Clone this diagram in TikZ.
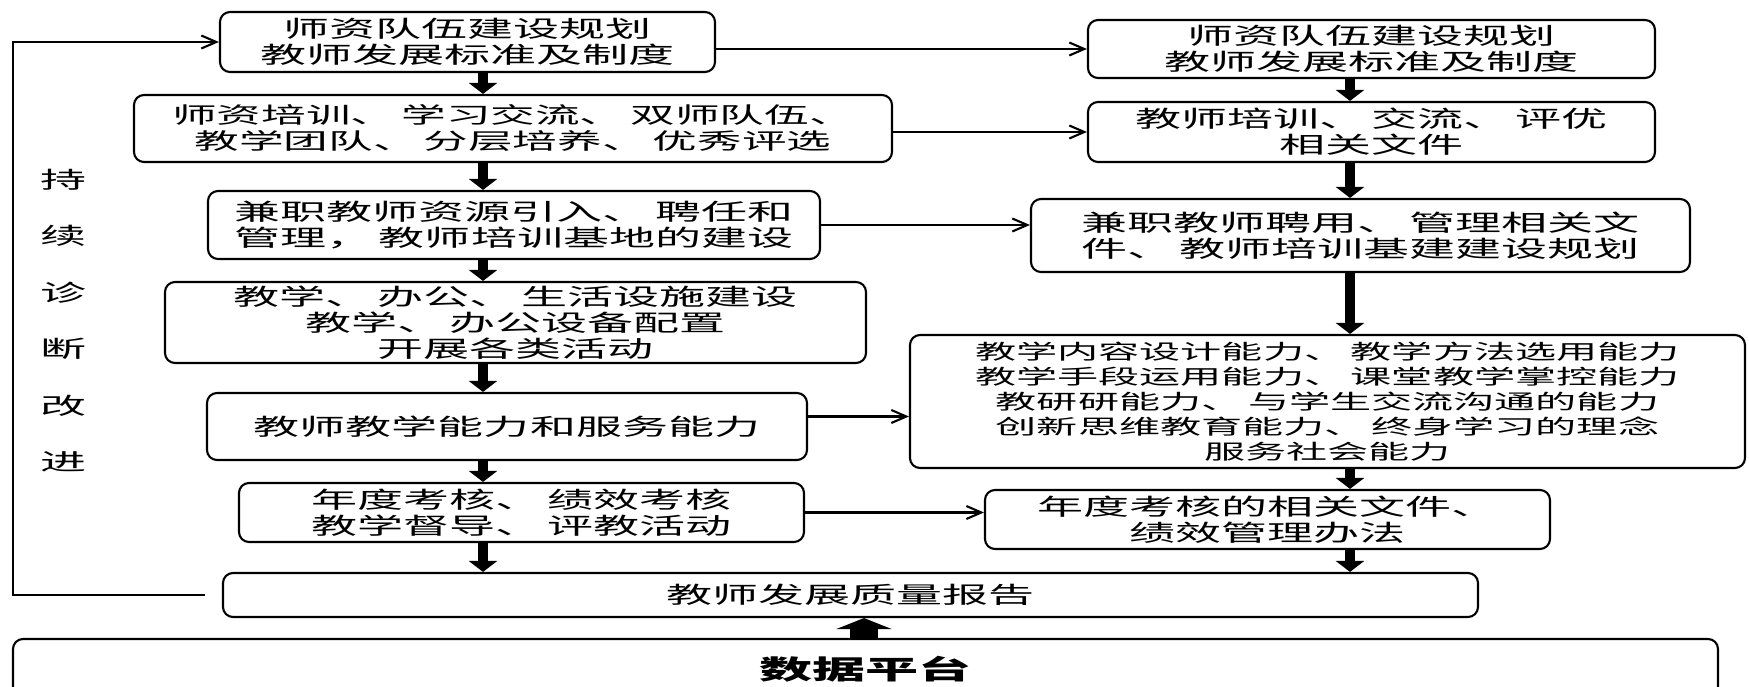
\documentclass[tikz,border=0pt]{standalone}
\usepackage{fontspec}
\setmainfont{Noto Sans CJK SC}[FakeStretch=2, WordSpace=0.6]
\usetikzlibrary{arrows.meta}

\tikzset{
  box/.style={draw, rounded corners=0.2cm, line width=1.2pt, align=center, inner sep=0pt,
    font=\fontsize{13.1pt}{14.8pt}\selectfont},
  flow/.style={-{Straight Barb[length=0.3cm,width=0.26cm]}, line width=1.2pt},
  fat/.style={-{Triangle[length=0.22cm,width=0.56cm]}, line width=0.2cm},
  fatter/.style={-{Triangle[length=0.22cm,width=1.1cm]}, line width=0.56cm},
}

\begin{document}
\begin{tikzpicture}

\useasboundingbox (0,0) rectangle (34.98,13.74);

% Left column
\node[box, minimum width=9.9cm, minimum height=1.2cm] (L1) at (9.35,12.9)
  {师资队伍建设规划\\教师发展标准及制度};
\node[box, minimum width=15.16cm, minimum height=1.34cm,
  font=\fontsize{12.7pt}{14.8pt}\selectfont] (L2) at (10.26,11.17)
  {师资培训、 学习交流、 双师队伍、\\教学团队、 分层培养、 优秀评选};
\node[box, minimum width=12.24cm, minimum height=1.36cm] (L3) at (10.28,9.24)
  {兼职教师资源引入、 聘任和\\管理， 教师培训基地的建设};
\node[box, minimum width=14.02cm, minimum height=1.62cm] (L4) at (10.31,7.29)
  {教学、 办公、 生活设施建设\\教学、 办公设备配置\\开展各类活动};
\node[box, minimum width=12cm, minimum height=1.34cm] (L5) at (10.14,5.21)
  {教师教学能力和服务能力};
\node[box, minimum width=11.3cm, minimum height=1.18cm] (L6) at (10.43,3.49)
  {年度考核、 绩效考核\\教学督导、 评教活动};

% Right column
\node[box, minimum width=11.34cm, minimum height=1.16cm] (R1) at (27.43,12.76)
  {师资队伍建设规划\\教师发展标准及制度};
\node[box, minimum width=11.34cm, minimum height=1.2cm] (R2) at (27.43,11.1)
  {教师培训、 交流、 评优\\相关文件};
\node[box, minimum width=13.18cm, minimum height=1.46cm] (R3) at (27.21,9.03)
  {兼职教师聘用、 管理相关文\\件、 教师培训基建建设规划};
\node[box, minimum width=16.7cm, minimum height=2.66cm,
  font=\fontsize{11.7pt}{14.2pt}\selectfont] (R4) at (26.55,5.71)
  {教学内容设计能力、 教学方法选用能力\\教学手段运用能力、 课堂教学掌控能力\\
   教研研能力、 与学生交流沟通的能力\\创新思维教育能力、 终身学习的理念\\服务社会能力};
\node[box, minimum width=11.3cm, minimum height=1.18cm] (R5) at (25.35,3.35)
  {年度考核的相关文件、\\绩效管理办法};

% Bottom
\node[box, minimum width=25.1cm, minimum height=0.88cm] (rep) at (17.01,1.84)
  {教师发展质量报告};
\node[box, minimum width=34.1cm, minimum height=1.22cm,
  font=\fontsize{15.1pt}{17pt}\selectfont\bfseries] (plat) at (17.31,0.35)
  {数据平台};

% Side label
\node[align=center, font=\fontsize{13.1pt}{32.1pt}\selectfont] (loop) at (1.28,7.33)
  {持\\续\\诊\\断\\改\\进};

% Arrow columns
\coordinate (lx) at (9.66,0);
\coordinate (rx) at (27.0,0);
\coordinate (px) at (17.28,0);

\foreach \a/\b in {L1/L2, L2/L3, L3/L4, L4/L5, L5/L6, L6/rep}
  \draw[fat] (\a.south -| lx) -- (\b.north -| lx);
\foreach \a/\b in {R1/R2, R2/R3, R3/R4, R4/R5, R5/rep}
  \draw[fat] (\a.south -| rx) -- (\b.north -| rx);
\draw[fatter] (plat.north -| px) -- (rep.south -| px);

% Left to right
\draw[flow] (L1.east |- R1.west) -- (R1.west);
\draw[flow] (L2.east |- R2.west) -- (R2.west);
\draw[flow] (L3.east) -- (L3.east -| R3.west);
\draw[flow] ([yshift=0.2cm]L5.east) -- ([yshift=0.2cm]L5.east -| R4.west);
\draw[flow] (L6.east) -- (L6.east -| R5.west);

% Feedback loop
\coordinate (fb) at ([xshift=-0.34cm]rep.west);
\coordinate (fbx) at (0.26,0);
\draw[flow] (fb) -- (fb -| fbx) |- (L1.west);

\end{tikzpicture}
\end{document}
